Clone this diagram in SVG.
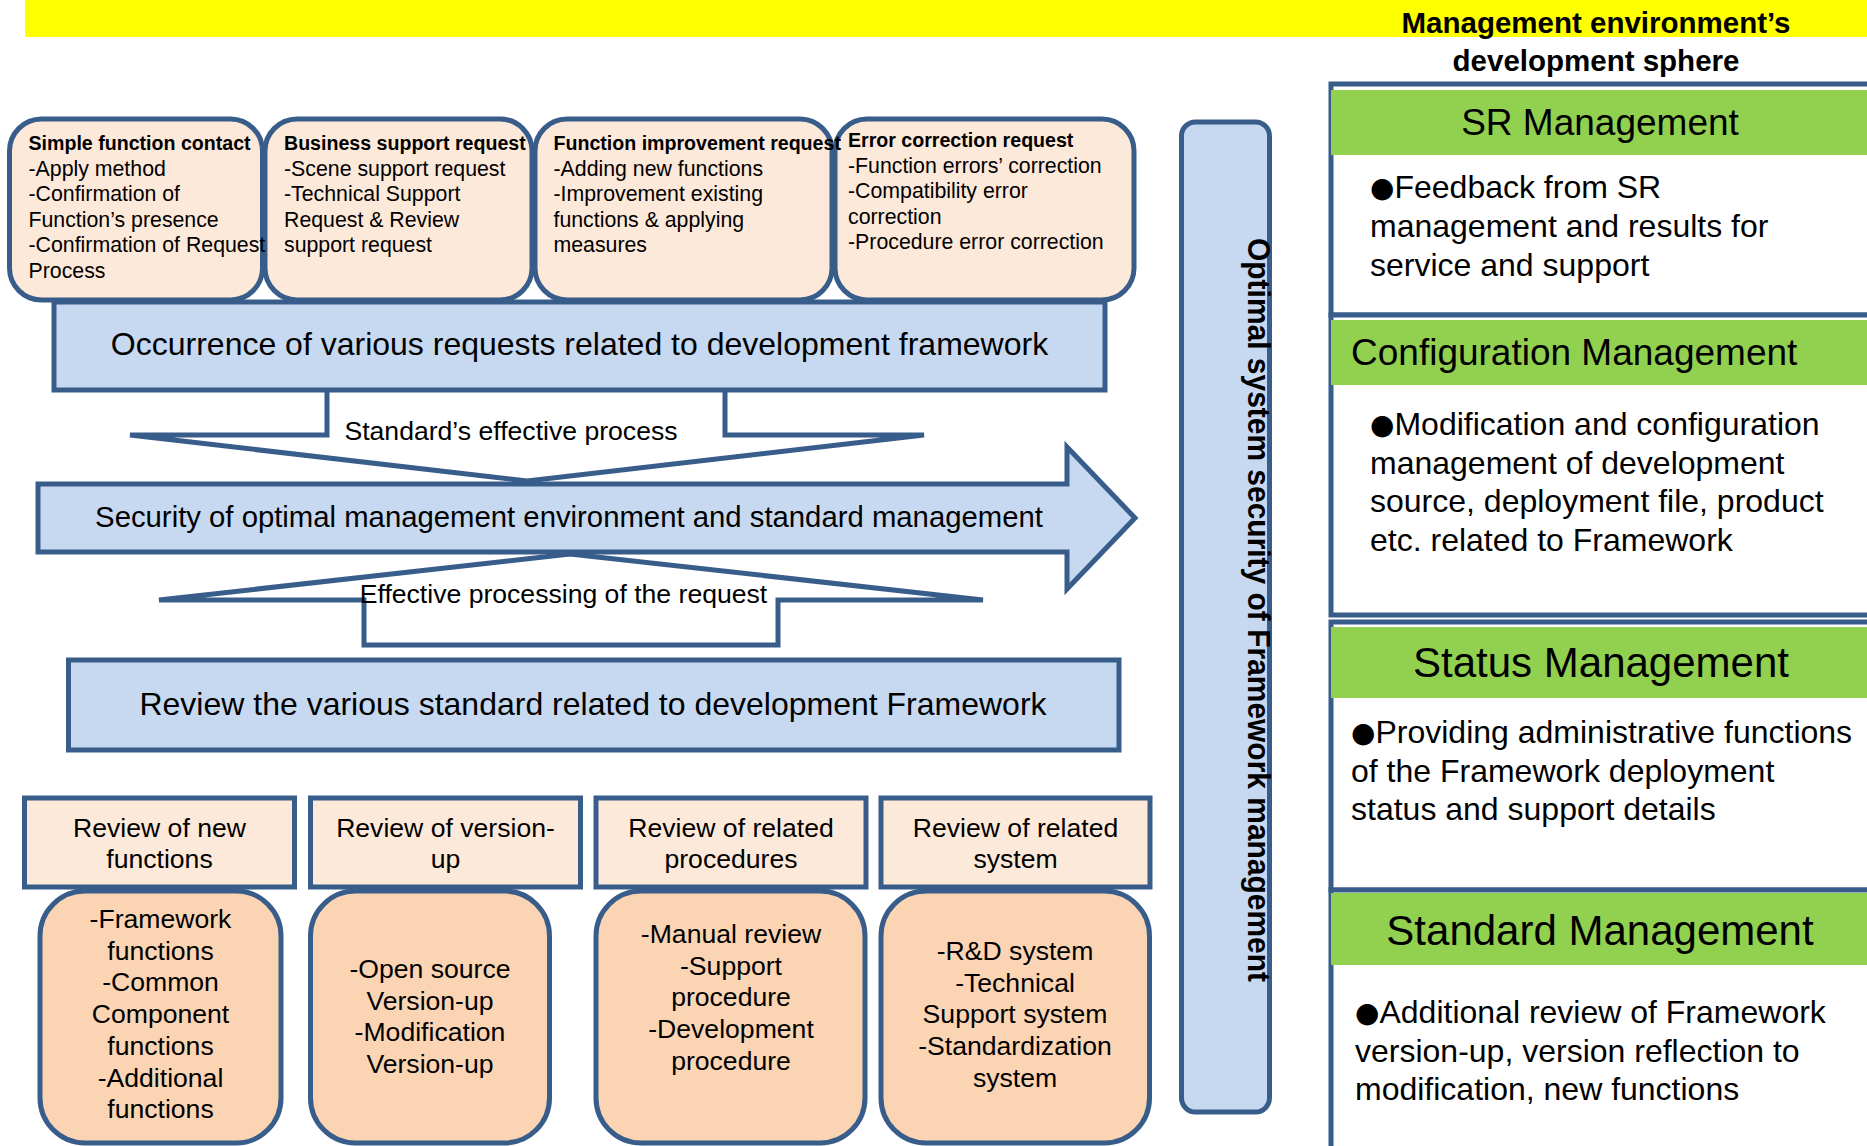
<svg xmlns="http://www.w3.org/2000/svg" width="1867" height="1146" viewBox="0 0 1867 1146">
<style>
text{font-family:"Liberation Sans",Arial,sans-serif;fill:#000}
.b{stroke:#385D8A;stroke-width:5;stroke-linejoin:miter}
.lb{fill:#C6D9F1}
.pk{fill:#FDE9D9}
.pc{fill:#FBD4B4}
.gr{fill:#92D050}
.wh{fill:#FFFFFF}
.tr{font-size:21.3px}
.tb{font-size:19.6px;font-weight:bold}
.m{text-anchor:middle}
.s26{font-size:26.6px}
.s32{font-size:32px}
.hd{font-size:37px}
.hd2{font-size:42px}
.bd{font-size:32px}
.bul{font-family:"DejaVu Sans",sans-serif;font-size:28px;baseline-shift:1px}
.ttl{font-size:29.5px;font-weight:bold;text-anchor:middle}
</style>
<rect x="25" y="0" width="1842" height="37" fill="#FFFF00"/>
<g id="title">
<text class="ttl" x="1596" y="33">Management environment’s</text>
<text class="ttl" x="1596" y="71">development sphere</text>
</g>

<g id="sr-management">
<rect class="b wh" x="1331" y="84" width="600" height="231"/>
<rect class="gr" x="1331" y="90" width="536" height="65"/>
<text class="hd m" x="1600" y="135">SR Management</text>
<text class="bd" x="1370" y="198"><tspan class="bul">●</tspan>Feedback from SR<tspan x="1370" dy="39">management and results for</tspan><tspan x="1370" dy="39">service and support</tspan></text>
</g>
<g id="configuration-management">
<rect class="b wh" x="1331" y="315" width="600" height="300"/>
<rect class="gr" x="1331" y="320" width="536" height="65"/>
<text class="hd" x="1351" y="365">Configuration Management</text>
<text class="bd" x="1370" y="435"><tspan class="bul">●</tspan>Modification and configuration<tspan x="1370" dy="38.5">management of development</tspan><tspan x="1370" dy="38.5">source, deployment file, product</tspan><tspan x="1370" dy="38.5">etc. related to Framework</tspan></text>
</g>
<g id="status-management">
<rect class="b wh" x="1331" y="622" width="600" height="268"/>
<rect class="gr" x="1331" y="627" width="536" height="71"/>
<text class="hd2 m" x="1601" y="677">Status Management</text>
<text class="bd" x="1351" y="743"><tspan class="bul">●</tspan>Providing administrative functions<tspan x="1351" dy="38.5">of the Framework deployment</tspan><tspan x="1351" dy="38.5">status and support details</tspan></text>
</g>
<g id="standard-management">
<rect class="b wh" x="1331" y="890" width="600" height="400"/>
<rect class="gr" x="1331" y="893" width="536" height="72"/>
<text class="hd2 m" x="1600" y="945">Standard Management</text>
<text class="bd" x="1355" y="1023"><tspan class="bul">●</tspan>Additional review of Framework<tspan x="1355" dy="38.5">version-up, version reflection to</tspan><tspan x="1355" dy="38.5">modification, new functions</tspan></text>
</g>

<g id="optimal-security">
<rect class="b lb" x="1181.5" y="122" width="88" height="990" rx="14"/>
<text transform="translate(1248,238) rotate(90)" x="0" y="0" font-size="32" font-weight="bold" textLength="744" lengthAdjust="spacingAndGlyphs">Optimal system security of Framework management</text>
</g>

<g id="connectors">
<path class="b wh" d="M327,390 V435 H130 L527,481 L924,435 H725 V390"/>
<path class="b wh" d="M570,554 L159,600 H364 V645 H778 V600 H983 Z"/>
</g>

<g id="occurrence">
<rect class="b lb" x="54" y="302" width="1051" height="88"/>
<text class="s32 m" x="579.5" y="355">Occurrence of various requests related to development framework</text>
</g>

<g id="req-business">
<rect class="b pk" x="265" y="119" width="267" height="181" rx="32"/>
<text class="tb" x="284" y="150">Business support request</text>
<text class="tr" x="284" y="175.5">-Scene support request<tspan x="284" dy="25.6">-Technical Support</tspan><tspan x="284" dy="25.6">Request &amp; Review</tspan><tspan x="284" dy="25.6">support request</tspan></text>
</g>
<g id="req-simple">
<rect class="b pk" x="9.5" y="119" width="253" height="181" rx="32"/>
<text class="tb" x="28.5" y="150">Simple function contact</text>
<text class="tr" x="28.5" y="175.5">-Apply method<tspan x="28.5" dy="25.6">-Confirmation of</tspan><tspan x="28.5" dy="25.6">Function’s presence</tspan><tspan x="28.5" dy="25.6">-Confirmation of Request</tspan><tspan x="28.5" dy="25.6">Process</tspan></text>
</g>
<g id="req-error">
<rect class="b pk" x="835" y="119" width="299" height="181" rx="32"/>
<text class="tb" x="848" y="147">Error correction request</text>
<text class="tr" x="848" y="172.5">-Function errors’ correction<tspan x="848" dy="25.6">-Compatibility error</tspan><tspan x="848" dy="25.6">correction</tspan><tspan x="848" dy="25.6">-Procedure error correction</tspan></text>
</g>
<g id="req-improvement">
<rect class="b pk" x="535" y="119" width="297" height="181" rx="32"/>
<text class="tb" x="553.5" y="150">Function improvement request</text>
<text class="tr" x="553.5" y="175.5">-Adding new functions<tspan x="553.5" dy="25.6">-Improvement existing</tspan><tspan x="553.5" dy="25.6">functions &amp; applying</tspan><tspan x="553.5" dy="25.6">measures</tspan></text>
</g>

<g id="standards-process-label">
<text class="s26 m" x="511" y="440">Standard’s effective process</text>
</g>

<g id="security-arrow">
<polygon class="b lb" points="38,484 1067,484 1067,447 1135,518 1067,589 1067,552 38,552"/>
<text class="m" font-size="29.3" x="569" y="527">Security of optimal management environment and standard management</text>
</g>

<g id="effective-processing-label">
<text class="s26 m" x="563.5" y="603">Effective processing of the request</text>
</g>

<g id="review-standard">
<rect class="b lb" x="68.5" y="660" width="1050.5" height="90"/>
<text class="s32 m" x="593" y="715">Review the various standard related to development Framework</text>
</g>

<g id="review-new">
<rect class="b pk" x="24.5" y="798" width="270" height="89"/>
<text class="s26 m" x="159.5" y="837">Review of new<tspan x="159.5" dy="31">functions</tspan></text>
<rect class="b pc" x="40" y="891" width="241" height="252" rx="45"/>
<text class="s26 m" x="160.5" y="928">-Framework<tspan x="160.5" dy="31.7">functions</tspan><tspan x="160.5" dy="31.7">-Common</tspan><tspan x="160.5" dy="31.7">Component</tspan><tspan x="160.5" dy="31.7">functions</tspan><tspan x="160.5" dy="31.7">-Additional</tspan><tspan x="160.5" dy="31.7">functions</tspan></text>
</g>
<g id="review-version">
<rect class="b pk" x="310.5" y="798" width="270" height="89"/>
<text class="s26 m" x="445.5" y="837">Review of version-<tspan x="445.5" dy="31">up</tspan></text>
<rect class="b pc" x="310.5" y="891" width="239" height="252" rx="45"/>
<text class="s26 m" x="430" y="978">-Open source<tspan x="430" dy="31.7">Version-up</tspan><tspan x="430" dy="31.7">-Modification</tspan><tspan x="430" dy="31.7">Version-up</tspan></text>
</g>
<g id="review-procedures">
<rect class="b pk" x="596" y="798" width="270" height="89"/>
<text class="s26 m" x="731" y="837">Review of related<tspan x="731" dy="31">procedures</tspan></text>
<rect class="b pc" x="596" y="891" width="269" height="252" rx="45"/>
<text class="s26 m" x="731" y="943">-Manual review<tspan x="731" dy="31.7">-Support</tspan><tspan x="731" dy="31.7">procedure</tspan><tspan x="731" dy="31.7">-Development</tspan><tspan x="731" dy="31.7">procedure</tspan></text>
</g>
<g id="review-system">
<rect class="b pk" x="881" y="798" width="269" height="89"/>
<text class="s26 m" x="1015.5" y="837">Review of related<tspan x="1015.5" dy="31">system</tspan></text>
<rect class="b pc" x="881" y="891" width="268.5" height="252" rx="45"/>
<text class="s26 m" x="1015" y="960">-R&amp;D system<tspan x="1015" dy="31.7">-Technical</tspan><tspan x="1015" dy="31.7">Support system</tspan><tspan x="1015" dy="31.7">-Standardization</tspan><tspan x="1015" dy="31.7">system</tspan></text>
</g>
</svg>
